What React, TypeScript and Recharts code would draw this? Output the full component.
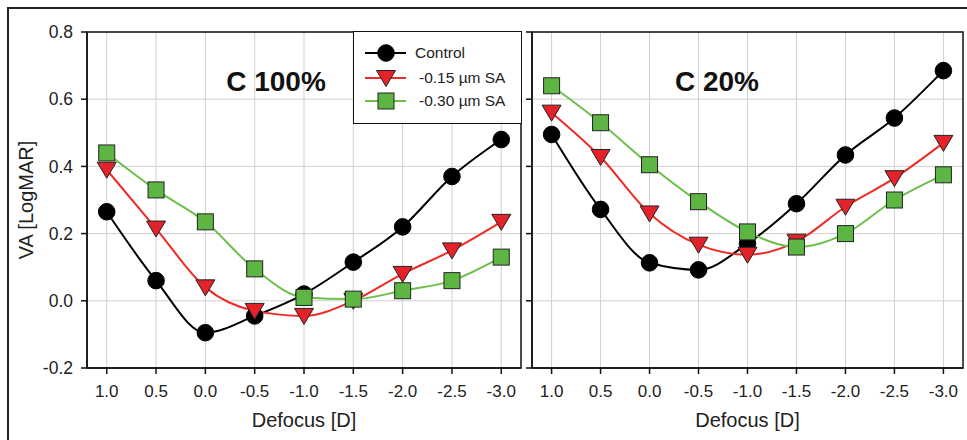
import { LineChart, Line, XAxis, YAxis, CartesianGrid, ReferenceArea, Legend } from "recharts"

// defocus steps (D) shown left to right: +1.0 down to -3.0
const defocus = [1.0, 0.5, 0.0, -0.5, -1.0, -1.5, -2.0, -2.5, -3.0]
const xTicks = [1.0, 0.5, 0.0, -0.5, -1.0, -1.5, -2.0, -2.5, -3.0]
const yTicks = [-0.2, 0.0, 0.2, 0.4, 0.6, 0.8]

// contrast 100%
const control100 = [0.265, 0.06, -0.095, -0.045, 0.02, 0.115, 0.22, 0.37, 0.48]
const sa015_100 = [0.39, 0.215, 0.04, -0.03, -0.045, 0.0, 0.08, 0.15, 0.235]
const sa030_100 = [0.44, 0.33, 0.235, 0.095, 0.01, 0.005, 0.03, 0.06, 0.13]

// contrast 20%
const control20 = [0.495, 0.272, 0.113, 0.092, 0.17, 0.289, 0.434, 0.544, 0.685]
const sa015_20 = [0.56, 0.428, 0.26, 0.167, 0.137, 0.176, 0.28, 0.365, 0.47]
const sa030_20 = [0.64, 0.53, 0.405, 0.295, 0.205, 0.16, 0.2, 0.3, 0.375]

const legendNames = ["Control", "-0.15 \u00b5m SA", "-0.30 \u00b5m SA"]

const BLACK = "#000000"
const RED = "#ee2b25"
const RED_FILL = "#e32229"
const GREEN = "#6cbf4a"
const GREEN_FILL = "#5db643"
const FONT = "'Liberation Sans', Arial, sans-serif"

const makeRows = (c: number[], a: number[], b: number[]) =>
  defocus.map((d, i) => ({ d, control: c[i], sa15: a[i], sa30: b[i] }))

const rows100 = makeRows(control100, sa015_100, sa030_100)
const rows20 = makeRows(control20, sa015_20, sa030_20)

const Circle = ({ cx, cy }: { cx: number; cy: number }) => (
  <circle cx={cx} cy={cy} r={8.3} fill="#000" stroke="#000" strokeWidth={1} />
)
const Tri = ({ cx, cy }: { cx: number; cy: number }) => (
  <path d={`M${cx - 9.5},${cy - 7.5} L${cx + 9.5},${cy - 7.5} L${cx},${cy + 8.5} Z`} fill={RED_FILL} stroke="#222" strokeWidth={1} />
)
const Square = ({ cx, cy }: { cx: number; cy: number }) => (
  <rect x={cx - 8} y={cy - 8} width={16} height={16} fill={GREEN_FILL} stroke="#222" strokeWidth={1} />
)

const dotCircle = (p: any) => <Circle key={`c${p.index}`} cx={p.cx} cy={p.cy} />
const dotTri = (p: any) => <Tri key={`t${p.index}`} cx={p.cx} cy={p.cy} />
const dotSquare = (p: any) => <Square key={`s${p.index}`} cx={p.cx} cy={p.cy} />

const LegendBox = () => {
  const items = [
    { name: legendNames[0], color: BLACK, Mark: Circle, y: 22, tx: 62 },
    { name: legendNames[1], color: RED, Mark: Tri, y: 47, tx: 66 },
    { name: legendNames[2], color: GREEN, Mark: Square, y: 70, tx: 66 },
  ]
  return (
    <div style={{ position: "relative", width: 169, height: 93, boxSizing: "border-box", border: "1.5px solid #111", background: "#fff", fontFamily: FONT, fontSize: 15.5, color: "#222" }}>
      <svg width={60} height={93} style={{ position: "absolute", left: 0, top: 0 }}>
        {items.map((it) => (
          <g key={it.name}>
            <line x1={11} x2={52} y1={it.y - 1} y2={it.y - 1} stroke={it.color} strokeWidth={2} />
            <it.Mark cx={32} cy={it.y - 1} />
          </g>
        ))}
      </svg>
      {items.map((it) => (
        <div key={it.name} style={{ position: "absolute", left: it.tx - 1, top: it.y - 10, lineHeight: "18px", whiteSpace: "nowrap" }}>
          {it.name}
        </div>
      ))}
    </div>
  )
}

type PanelProps = {
  rows: { d: number; control: number; sa15: number; sa30: number }[]
  width: number
  yWidth: number
  showYLabels: boolean
  showLegend: boolean
}

const Panel = ({ rows, width, yWidth, showYLabels, showLegend }: PanelProps) => (
  <LineChart width={width} height={440} data={rows} margin={{ top: 32, right: 4, bottom: 0, left: 0 }}>
    <CartesianGrid stroke="#cfcfcf" strokeWidth={1} horizontalValues={yTicks} verticalValues={xTicks} />
    <XAxis
      type="number"
      dataKey="d"
      domain={[-3.2, 1.2]}
      reversed
      ticks={xTicks}
      allowDataOverflow
      height={72}
      tickSize={6}
      tickMargin={11}
      stroke="#111"
      strokeWidth={1.5}
      fontSize={17}
      fontFamily={FONT}
      tick={{ fill: "#222", fontSize: 17, fontFamily: FONT }}
      tickFormatter={(v: number) => v.toFixed(1)}
      label={{ value: "Defocus [D]", position: "insideBottom", offset: 13, fill: "#222", fontSize: 20, fontFamily: FONT }}
    />
    <YAxis
      type="number"
      domain={[-0.2, 0.8]}
      ticks={yTicks}
      width={yWidth}
      tickSize={6}
      tickMargin={8}
      stroke="#111"
      strokeWidth={1.5}
      fontSize={17.5}
      fontFamily={FONT}
      tick={{ fill: "#222", fontSize: 17.5, fontFamily: FONT }}
      tickFormatter={(v: number) => (showYLabels ? v.toFixed(1) : "")}
      label={
        showYLabels
          ? {
              content: () => (
                <text x={26} y={200} transform="rotate(-90 26 200)" textAnchor="middle" dominantBaseline="central" fill="#222" fontSize={20} fontFamily={FONT}>
                  VA [LogMAR]
                </text>
              ),
            }
          : undefined
      }
    />
    <ReferenceArea x1={-3.2} x2={1.2} y1={-0.2} y2={0.8} fill="none" stroke="#111" strokeWidth={1.5} />
    <Line type="monotone" dataKey="control" stroke={BLACK} strokeWidth={2} dot={dotCircle} isAnimationActive={false} />
    <Line type="monotone" dataKey="sa15" stroke={RED} strokeWidth={2} dot={dotTri} isAnimationActive={false} />
    <Line type="monotone" dataKey="sa30" stroke={GREEN} strokeWidth={2} dot={dotSquare} isAnimationActive={false} />
    {showLegend && (
      <Legend
        layout="horizontal"
        verticalAlign="middle"
        content={() => <LegendBox />}
        wrapperStyle={{ position: "absolute", left: 353, top: 31, width: 169, height: 93 }}
      />
    )}
  </LineChart>
)

const titleStyle = {
  position: "absolute" as const,
  width: 200,
  top: 68,
  textAlign: "center" as const,
  fontFamily: FONT,
  fontWeight: 700,
  fontSize: 28,
  lineHeight: 1,
  color: "#111",
}

export default function App() {
  return (
    <div style={{ position: "absolute", left: 0, top: 0, width: 967, height: 440, background: "#fff", overflow: "hidden" }}>
      <div style={{ position: "absolute", left: 7, top: 7, width: 980, height: 460, borderTop: "2px solid #222", borderLeft: "2px solid #222" }} />
      <div style={{ position: "absolute", left: 0, top: 0 }}>
        <Panel rows={rows100} width={525} yWidth={87} showYLabels showLegend />
      </div>
      <div style={{ position: "absolute", left: 522, top: 0 }}>
        <Panel rows={rows20} width={445} yWidth={10} showYLabels={false} showLegend={false} />
      </div>
      <div style={{ ...titleStyle, left: 176 }}>C 100%</div>
      <div style={{ ...titleStyle, left: 617 }}>C 20%</div>
    </div>
  )
}
